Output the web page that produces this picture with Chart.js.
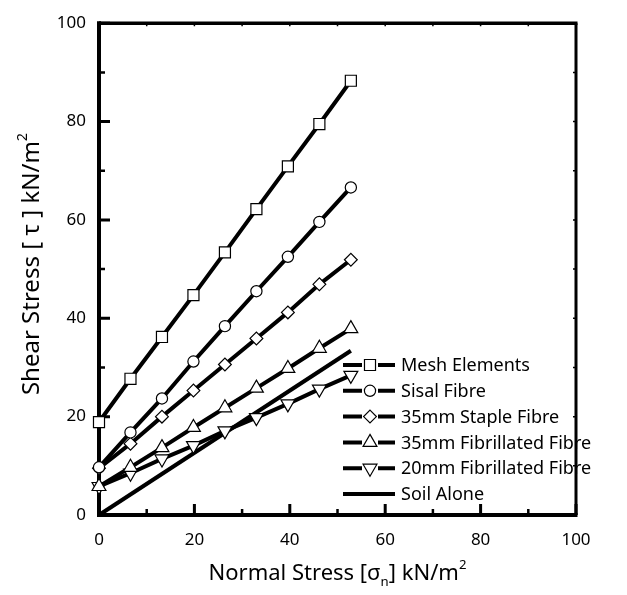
<!DOCTYPE html>
<html>
<head>
<meta charset="utf-8">
<script src="https://cdn.jsdelivr.net/npm/chart.js@4"></script>
<style>
  html, body { margin: 0; padding: 0; background: #fff; }
  #wrap { width: 627px; height: 595px; }
</style>
</head>
<body>
<div id="wrap"><canvas id="shearChart" width="627" height="595"></canvas></div>
<script>
// values (kN/m2)
const normalStress = [0, 6.6, 13.2, 19.8, 26.4, 33, 39.6, 46.2, 52.8];
const meshElements = [18.9, 27.7, 36.2, 44.7, 53.4, 62.2, 70.9, 79.5, 88.3];
const sisalFibre = [9.7, 16.8, 23.7, 31.2, 38.4, 45.5, 52.5, 59.6, 66.6];
const stapleFibre35 = [9.5, 14.5, 20.0, 25.3, 30.6, 35.9, 41.2, 46.9, 51.9];
const fibrillated35 = [5.8, 9.7, 13.7, 17.8, 21.8, 25.8, 29.8, 33.9, 37.9];
const fibrillated20 = [5.8, 8.5, 11.4, 14.1, 17.1, 19.8, 22.6, 25.6, 28.4];
const soilAloneX = [0, 52.8];
const soilAloneY = [0, 33.4];
const seriesLabels = ['Mesh Elements', 'Sisal Fibre', '35mm Staple Fibre',
  '35mm Fibrillated Fibre', '20mm Fibrillated Fibre', 'Soil Alone'];

const FONT = "'Noto Sans', 'DejaVu Sans', sans-serif";

function toPoints(xs, ys) {
  return xs.map((x, i) => ({ x: x, y: ys[i] }));
}

function series(label, data, style, radius, rotation) {
  return {
    label: label,
    data: data,
    showLine: true,
    borderColor: '#000',
    borderWidth: 4,
    pointStyle: style,
    pointRadius: radius,
    pointRotation: rotation || 0,
    pointBackgroundColor: '#fff',
    pointBorderColor: '#000',
    pointBorderWidth: 1.2,
    pointHoverRadius: radius,
    tension: 0,
    clip: false
  };
}

// marker shapes as Chart.js draws them
function drawMarker(ctx, style, x, y, r, rot) {
  ctx.beginPath();
  if (style === 'rect') {
    const s = r * Math.SQRT1_2;
    ctx.rect(x - s, y - s, 2 * s, 2 * s);
  } else if (style === 'circle') {
    ctx.arc(x, y, r, 0, Math.PI * 2);
  } else if (style === 'rectRot') {
    ctx.moveTo(x, y - r); ctx.lineTo(x + r, y); ctx.lineTo(x, y + r); ctx.lineTo(x - r, y);
    ctx.closePath();
  } else if (style === 'triangle') {
    const d = rot === 180 ? -1 : 1;
    const hw = r * Math.sin(Math.PI / 3);
    ctx.moveTo(x, y - d * r);
    ctx.lineTo(x + hw, y + d * r / 2);
    ctx.lineTo(x - hw, y + d * r / 2);
    ctx.closePath();
  }
  ctx.fillStyle = '#fff';
  ctx.fill();
  ctx.lineWidth = 1.2;
  ctx.strokeStyle = '#000';
  ctx.stroke();
}

// text with a subscript / superscript piece
function drawRich(ctx, parts, size) {
  let w = 0;
  parts.forEach(p => {
    ctx.font = (p.small ? size * 0.6 : size) + 'px ' + FONT;
    p.w = ctx.measureText(p.t).width;
    w += p.w;
  });
  let x = -w / 2;
  parts.forEach(p => {
    ctx.font = (p.small ? size * 0.6 : size) + 'px ' + FONT;
    ctx.fillText(p.t, x, p.dy || 0);
    x += p.w;
  });
}

const frameAndTicks = {
  id: 'frameAndTicks',
  beforeDatasetsDraw(chart) {
    const { ctx, chartArea: a, scales } = chart;
    ctx.save();
    ctx.strokeStyle = '#000';
    ctx.lineCap = 'butt';
    // inward ticks every 10, longer every 20
    for (let v = 0; v <= 100; v += 10) {
      const major = v % 20 === 0;
      const px = scales.x.getPixelForValue(v);
      const py = scales.y.getPixelForValue(v);
      ctx.lineWidth = major ? 3 : 2.5;
      ctx.beginPath();
      ctx.moveTo(px, a.bottom); ctx.lineTo(px, a.bottom - (major ? 11 : 6));
      ctx.moveTo(a.left, py); ctx.lineTo(a.left + (major ? 11 : 6), py);
      ctx.stroke();
      ctx.lineWidth = 1.5;
      ctx.beginPath();
      ctx.moveTo(px, a.top); ctx.lineTo(px, a.top + 3);
      ctx.moveTo(a.right, py); ctx.lineTo(a.right - 3, py);
      ctx.stroke();
    }
    // box
    ctx.lineWidth = 4;
    ctx.beginPath();
    ctx.moveTo(a.left, a.top - 2); ctx.lineTo(a.left, a.bottom + 2);
    ctx.moveTo(a.left - 2, a.bottom); ctx.lineTo(a.right + 1.5, a.bottom);
    ctx.stroke();
    ctx.lineWidth = 3.5;
    ctx.beginPath();
    ctx.moveTo(a.left, a.top); ctx.lineTo(a.right + 1.5, a.top);
    ctx.stroke();
    ctx.lineWidth = 3;
    ctx.beginPath();
    ctx.moveTo(a.right, a.top); ctx.lineTo(a.right, a.bottom);
    ctx.stroke();
    ctx.restore();
  },
  afterDraw(chart) {
    const { ctx, chartArea: a } = chart;
    ctx.save();
    ctx.fillStyle = '#000';
    ctx.textBaseline = 'alphabetic';
    // x axis title
    ctx.save();
    ctx.translate((a.left + a.right) / 2, 580);
    drawRich(ctx, [
      { t: 'Normal Stress [σ' },
      { t: 'n', small: true, dy: 6 },
      { t: '] kN/m' },
      { t: '2', small: true, dy: -11 }
    ], 22);
    ctx.restore();
    // y axis title
    ctx.save();
    ctx.translate(39, 264);
    ctx.rotate(-Math.PI / 2);
    drawRich(ctx, [
      { t: 'Shear Stress [ τ ] kN/m' },
      { t: '2', small: true, dy: -12 }
    ], 24);
    ctx.restore();

    // legend, lower right inside the plot
    const x0 = 343, x1 = 395, mid = 370, textX = 401;
    let y = 365;
    ctx.font = '18px ' + FONT;
    ctx.textBaseline = 'middle';
    chart.data.datasets.forEach(ds => {
      ctx.strokeStyle = '#000';
      ctx.lineWidth = 4;
      ctx.beginPath();
      if (ds.pointRadius > 0) {
        ctx.moveTo(x0, y); ctx.lineTo(mid - 8, y);
        ctx.moveTo(mid + 8, y); ctx.lineTo(x1, y);
      } else {
        ctx.moveTo(x0, y); ctx.lineTo(x1, y);
      }
      ctx.stroke();
      if (ds.pointRadius > 0) {
        drawMarker(ctx, ds.pointStyle, mid, y, ds.pointRadius, ds.pointRotation);
      }
      ctx.fillStyle = '#000';
      ctx.fillText(ds.label, textX, y + 1);
      y += 25.8;
    });
    ctx.restore();
  }
};

const datasets = [
  series(seriesLabels[0], toPoints(normalStress, meshElements), 'rect', 7.8),
  series(seriesLabels[1], toPoints(normalStress, sisalFibre), 'circle', 5.6),
  series(seriesLabels[2], toPoints(normalStress, stapleFibre35), 'rectRot', 6.4),
  series(seriesLabels[3], toPoints(normalStress, fibrillated35), 'triangle', 8),
  series(seriesLabels[4], toPoints(normalStress, fibrillated20), 'triangle', 8, 180),
  series(seriesLabels[5], toPoints(soilAloneX, soilAloneY), 'circle', 0)
];

new Chart(document.getElementById('shearChart'), {
  type: 'scatter',
  data: { datasets: datasets },
  options: {
    responsive: false,
    animation: false,
    events: [],
    layout: { padding: { left: 0, right: 51, top: 17, bottom: 0 } },
    plugins: { legend: { display: false }, tooltip: { enabled: false } },
    scales: {
      x: {
        type: 'linear', min: 0, max: 100,
        afterFit: s => { s.height = 80; },
        grid: { display: false, drawTicks: false },
        border: { display: false },
        ticks: { stepSize: 20, padding: 15, color: '#000', font: { family: FONT, size: 17 } }
      },
      y: {
        type: 'linear', min: 0, max: 100,
        afterFit: s => { s.width = 99; },
        grid: { display: false, drawTicks: false },
        border: { display: false },
        ticks: { stepSize: 20, padding: 13, color: '#000', font: { family: FONT, size: 17 } }
      }
    }
  },
  plugins: [frameAndTicks]
});
</script>
</body>
</html>
